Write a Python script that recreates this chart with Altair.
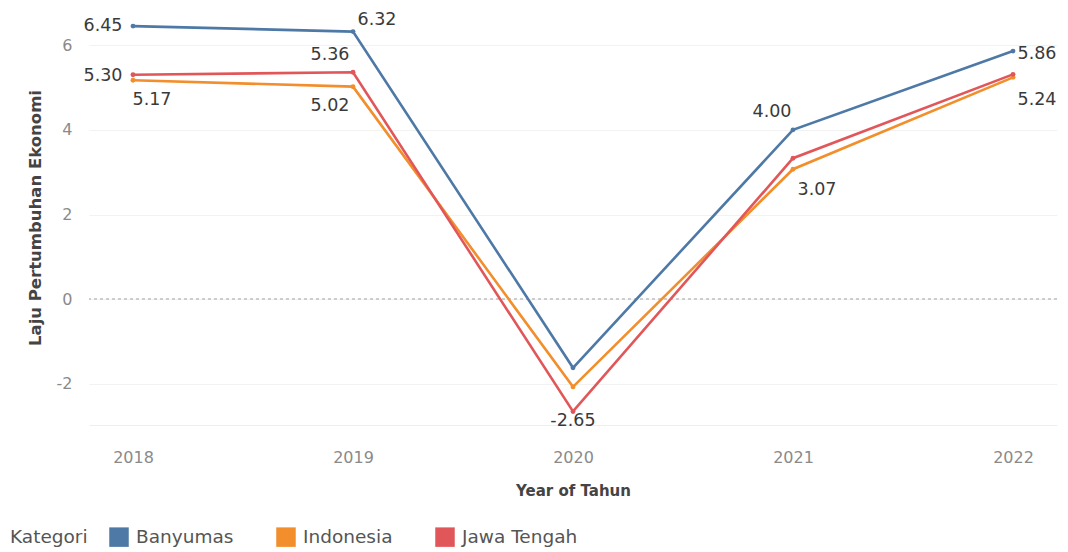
import altair as alt
import pandas as pd

years = [2018, 2019, 2020, 2021, 2022]
series = ["Banyumas", "Indonesia", "Jawa Tengah"]
banyumas = [6.45, 6.32, -1.62, 4.00, 5.86]
indonesia = [5.17, 5.02, -2.07, 3.07, 5.24]
jawa_tengah = [5.30, 5.36, -2.65, 3.33, 5.31]
colors = ["#4e79a7", "#f28e2b", "#e15759"]
y_ticks = [-2, 0, 2, 4, 6]

rows = []
for s, vals in zip(series, [banyumas, indonesia, jawa_tengah]):
    for yr, v in zip(years, vals):
        rows.append({"Tahun": yr, "Kategori": s, "Laju": v, "Teks": f"{v:.2f}"})
df = pd.DataFrame(rows)

FONT = "DejaVu Sans"

x_enc = alt.X(
    "Tahun:Q",
    scale=alt.Scale(domain=[2017.8, 2022.2], nice=False, zero=False),
    axis=alt.Axis(values=years, format="d", title="Year of Tahun", grid=False,
                  ticks=False, domain=True, domainColor="#efefef",
                  labelPadding=24, titlePadding=18, labelFontSize=16,
                  labelColor="#8a8a8a", titleFontSize=15, titleColor="#444444",
                  titleFontWeight="bold", labelFont=FONT, titleFont=FONT),
)
y_enc = alt.Y(
    "Laju:Q",
    scale=alt.Scale(domain=[-2.97, 6.83], nice=False, zero=False),
    axis=alt.Axis(values=y_ticks, labelExpr="datum.value", title="Laju Pertumbuhan Ekonomi",
                  grid=True, gridColor="#f2f2f2", ticks=False, domain=False,
                  labelPadding=17, titlePadding=13, labelFontSize=16,
                  labelColor="#8a8a8a", titleFontSize=16.5, titleColor="#444444",
                  titleFontWeight="bold", labelFont=FONT, titleFont=FONT),
)
color_enc = alt.Color(
    "Kategori:N",
    scale=alt.Scale(domain=series, range=colors),
    legend=alt.Legend(orient="none", legendX=-79, legendY=517, direction="horizontal",
                      titleOrient="left", symbolType="square", symbolSize=380,
                      symbolStrokeWidth=0, symbolOpacity=1, labelFontSize=18.5,
                      titleFontSize=18.5, titleFontWeight="normal", labelColor="#555555",
                      titleColor="#555555", columnPadding=42, titlePadding=21,
                      labelOffset=7, labelFont=FONT, titleFont=FONT),
)

base = alt.Chart(df)
zero = alt.Chart(df).mark_rule(strokeDash=[3, 3], color="#cccccc", strokeWidth=1).encode(y=alt.datum(0))
lines = base.mark_line(strokeWidth=2.6).encode(x=x_enc, y=y_enc, color=color_enc,
                                                order=alt.Order("Tahun:Q"))
points = base.mark_circle(size=24, opacity=1).encode(
    x="Tahun:Q", y="Laju:Q",
    color=alt.Color("Kategori:N", legend=None, scale=alt.Scale(domain=series, range=colors)))

placements = [
    ("Banyumas", 2018, -30, 0),
    ("Banyumas", 2019, 24, -12),
    ("Banyumas", 2021, -21, -18),
    ("Banyumas", 2022, 24, 3),
    ("Jawa Tengah", 2018, -30, 1),
    ("Jawa Tengah", 2019, -23, -17),
    ("Jawa Tengah", 2020, 0, 10),
    ("Indonesia", 2018, 19, 20),
    ("Indonesia", 2019, -23, 19),
    ("Indonesia", 2021, 24, 21),
    ("Indonesia", 2022, 24, 23),
]
texts = []
for s, yr, dx, dy in placements:
    texts.append(
        base.transform_filter((alt.datum.Kategori == s) & (alt.datum.Tahun == yr))
        .mark_text(dx=dx, dy=dy, fontSize=17.5, color="#3a3a3a", font=FONT)
        .encode(x="Tahun:Q", y="Laju:Q", text="Teks:N")
    )

chart = alt.layer(zero, lines, points, *texts).properties(
    width=968, height=415,
    padding={"left": 81, "top": 2, "right": 3, "bottom": 125},
    autosize=alt.AutoSizeParams(type="none"),
).configure(background="white").configure_view(stroke=None, strokeWidth=0)

chart.save("out.html", embed_options={"renderer": "svg", "actions": False})
